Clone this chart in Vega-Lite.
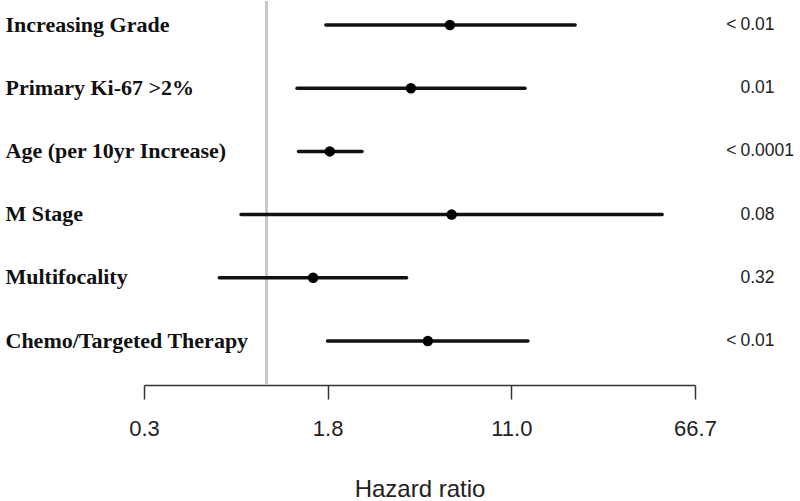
{
  "$schema": "https://vega.github.io/schema/vega-lite/v6.json",
  "background": "white",
  "padding": {"left": 5, "top": 0, "right": 0, "bottom": 0},
  "bounds": "flush",
  "spacing": 45,
  "data": {"values": [
    {"label": "Increasing Grade", "hr": 6.04, "lo": 1.79, "hi": 20.6, "sign": "<", "p": "0.01"},
    {"label": "Primary Ki-67 >2%", "hr": 4.12, "lo": 1.35, "hi": 12.6, "sign": "", "p": "0.01"},
    {"label": "Age (per 10yr Increase)", "hr": 1.86, "lo": 1.37, "hi": 2.55, "sign": "<", "p": "0.0001"},
    {"label": "M Stage", "hr": 6.14, "lo": 0.78, "hi": 48.3, "sign": "", "p": "0.08"},
    {"label": "Multifocality", "hr": 1.58, "lo": 0.63, "hi": 3.95, "sign": "", "p": "0.32"},
    {"label": "Chemo/Targeted Therapy", "hr": 4.86, "lo": 1.82, "hi": 12.97, "sign": "<", "p": "0.01"}
  ]},
  "config": {"view": {"stroke": null}},
  "hconcat": [
    {
      "width": 551,
      "height": 384,
      "layer": [
        {
          "mark": {"type": "rule", "color": "#c8c8c8", "strokeWidth": 2},
          "encoding": {"x": {"datum": 1, "type": "quantitative", "title": "Hazard ratio"}}
        },
        {
          "mark": {"type": "rule", "color": "#111111", "strokeWidth": 3.5, "strokeCap": "round"},
          "encoding": {
            "x": {
              "field": "lo", "type": "quantitative", "title": "Hazard ratio",
              "scale": {"type": "log", "domain": [0.301194, 66.686331], "nice": false, "zero": false},
              "axis": {
                "values": [0.301194, 1.822119, 11.023176, 66.686331],
                "labelExpr": "format(datum.value, '.1f')",
                "grid": false,
                "domainColor": "#333333", "domainWidth": 1.5,
                "tickColor": "#333333", "tickWidth": 1.5, "tickSize": 14,
                "labelFont": "Liberation Sans", "labelFontSize": 22, "labelColor": "#222222",
                "labelPadding": 19, "labelFlush": false, "labelOverlap": false,
                "titleFont": "Liberation Sans", "titleFontSize": 24, "titleFontWeight": "normal",
                "titleColor": "#222222", "titlePadding": 38
              }
            },
            "x2": {"field": "hi"},
            "y": {
              "field": "label", "type": "nominal", "sort": null,
              "scale": {"type": "point", "range": [24, 340], "padding": 0},
              "axis": {
                "title": null, "domain": false, "ticks": false,
                "labelAlign": "left", "labelPadding": 139, "labelLimit": 400,
                "labelFont": "Liberation Serif", "labelFontWeight": "bold",
                "labelFontSize": 22, "labelColor": "#111111", "labelOffset": -1
              }
            }
          }
        },
        {
          "mark": {"type": "circle", "color": "#000000", "opacity": 1, "size": 110},
          "encoding": {
            "x": {"field": "hr", "type": "quantitative"},
            "y": {"field": "label", "type": "nominal", "sort": null}
          }
        }
      ]
    },
    {
      "width": 1,
      "height": 384,
      "layer": [
        {
          "mark": {"type": "text", "align": "left", "baseline": "middle", "font": "Liberation Sans", "fontSize": 17.5, "color": "#222222"},
          "encoding": {
            "y": {"field": "label", "type": "nominal", "sort": null, "scale": {"type": "point", "range": [24, 340], "padding": 0}, "axis": null},
            "text": {"field": "p"}
          }
        },
        {
          "mark": {"type": "text", "align": "right", "baseline": "middle", "dx": -4, "font": "Liberation Sans", "fontSize": 17.5, "color": "#222222"},
          "encoding": {
            "y": {"field": "label", "type": "nominal", "sort": null},
            "text": {"field": "sign"}
          }
        }
      ]
    }
  ]
}
